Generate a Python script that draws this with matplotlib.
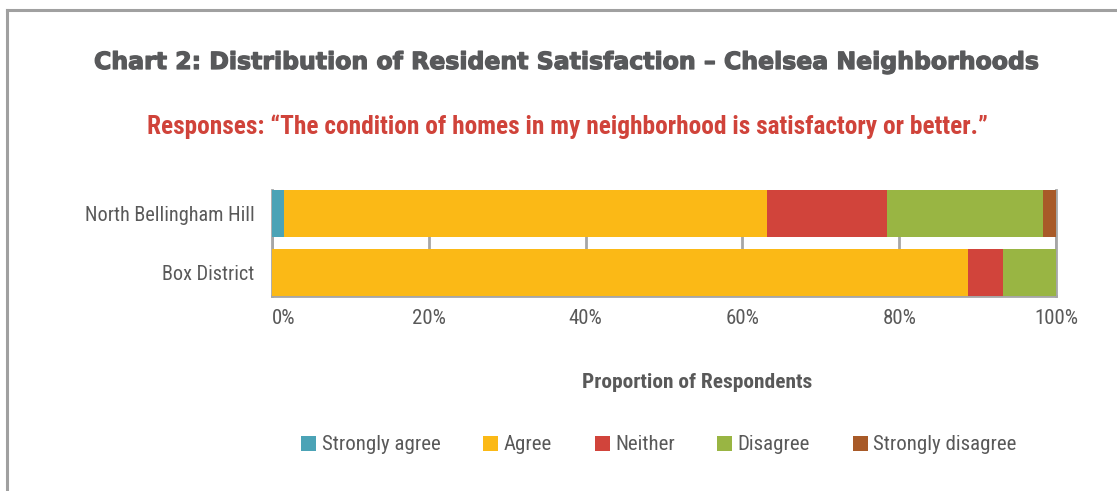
import matplotlib
matplotlib.use("Agg")
import matplotlib.pyplot as plt
from matplotlib import font_manager
from matplotlib import patheffects
from matplotlib.lines import Line2D
from matplotlib.patches import Patch

categories = ["Box District", "North Bellingham Hill"]
series_names = ["Strongly agree", "Agree", "Neither", "Disagree", "Strongly disagree"]
strongly_agree = [0.0, 1.5]
agree = [88.8, 61.6]
neither = [4.5, 15.3]
disagree = [6.7, 20.0]
strongly_disagree = [0.0, 1.6]
x_ticks = [0, 20, 40, 60, 80, 100]
x_tick_labels = ["0%", "20%", "40%", "60%", "80%", "100%"]

colors = ["#4BA3B6", "#FBB916", "#D1443B", "#99B543", "#A85A28"]


def pick(fams):
    names = {f.name for f in font_manager.fontManager.ttflist}
    for f in fams:
        if f in names:
            return f
    return "DejaVu Sans"


narrow = pick(["Liberation Sans Narrow", "Roboto Condensed", "Open Sans Condensed", "Liberation Sans"])
heavy = "DejaVu Sans"

W, H = 1117, 491
fig = plt.figure(figsize=(W / 100, H / 100), dpi=100)
fig.patch.set_facecolor("white")

ax = fig.add_axes([272 / W, 1 - 296 / H, (1056 - 272) / W, (296 - 190) / H])

series = [strongly_agree, agree, neither, disagree, strongly_disagree]
ypos = list(range(len(categories)))
left = [0.0] * len(categories)
for vals, col, name in zip(series, colors, series_names):
    ax.barh(ypos, vals, left=left, height=0.81, color=col, label=name, zorder=3)
    left = [l + v for l, v in zip(left, vals)]

ax.set_xlim(0, 100)
ax.set_ylim(-0.405, 1.405)
ax.set_yticks(ypos)
ax.set_yticklabels(categories, fontfamily=narrow, fontsize=14.6, color="#595959")
ax.set_xticks(x_ticks)
ax.set_xticklabels(x_tick_labels, fontfamily=narrow, fontsize=15, color="#595959")
ax.get_xticklabels()[0].set_horizontalalignment("left")
ax.tick_params(axis="both", length=0)
ax.tick_params(axis="x", pad=9.5)
ax.tick_params(axis="y", pad=12.5)
ax.grid(axis="x", color="#A6A6A6", linewidth=2, zorder=0)
ax.set_axisbelow(True)
for s in ["left", "bottom", "right"]:
    ax.spines[s].set_color("#A6A6A6")
    ax.spines[s].set_linewidth(2)
ax.spines["top"].set_visible(False)

fig.text(567 / W, 1 - 62 / H, "Chart 2: Distribution of Resident Satisfaction \u2013 Chelsea Neighborhoods",
         ha="center", va="center", fontfamily=heavy, fontweight="bold", fontsize=17, color="#58595B",
         path_effects=[patheffects.withStroke(linewidth=0.9, foreground="#58595B")])
fig.text(567 / W, 1 - 127 / H,
         "Responses: \u201cThe condition of homes in my neighborhood is satisfactory or better.\u201d",
         ha="center", va="center", fontfamily=narrow, fontweight="bold", fontsize=18.3, color="#D0433A")
fig.text(697 / W, 1 - 382 / H, "Proportion of Respondents", ha="center", va="center",
         fontfamily=narrow, fontweight="bold", fontsize=15.4, color="#595959")

handles = [Patch(facecolor=c, edgecolor="none") for c in colors]
leg = fig.legend(handles, series_names, loc="center", bbox_to_anchor=(659 / W, 1 - 445 / H),
                 ncol=5, frameon=False, handlelength=0.72, handleheight=0.72, handletextpad=0.26,
                 columnspacing=2.05, prop={"family": narrow, "size": 15})
for t in leg.get_texts():
    t.set_color("#595959")

fig.add_artist(Line2D([7 / W, 1], [1 - 10 / H, 1 - 10 / H], color="#A0A0A0", linewidth=2.2,
                      transform=fig.transFigure))
fig.add_artist(Line2D([7 / W, 7 / W], [1 - 10 / H, 0], color="#A0A0A0", linewidth=2.2,
                      transform=fig.transFigure))

fig.savefig("out.png", dpi=100)
